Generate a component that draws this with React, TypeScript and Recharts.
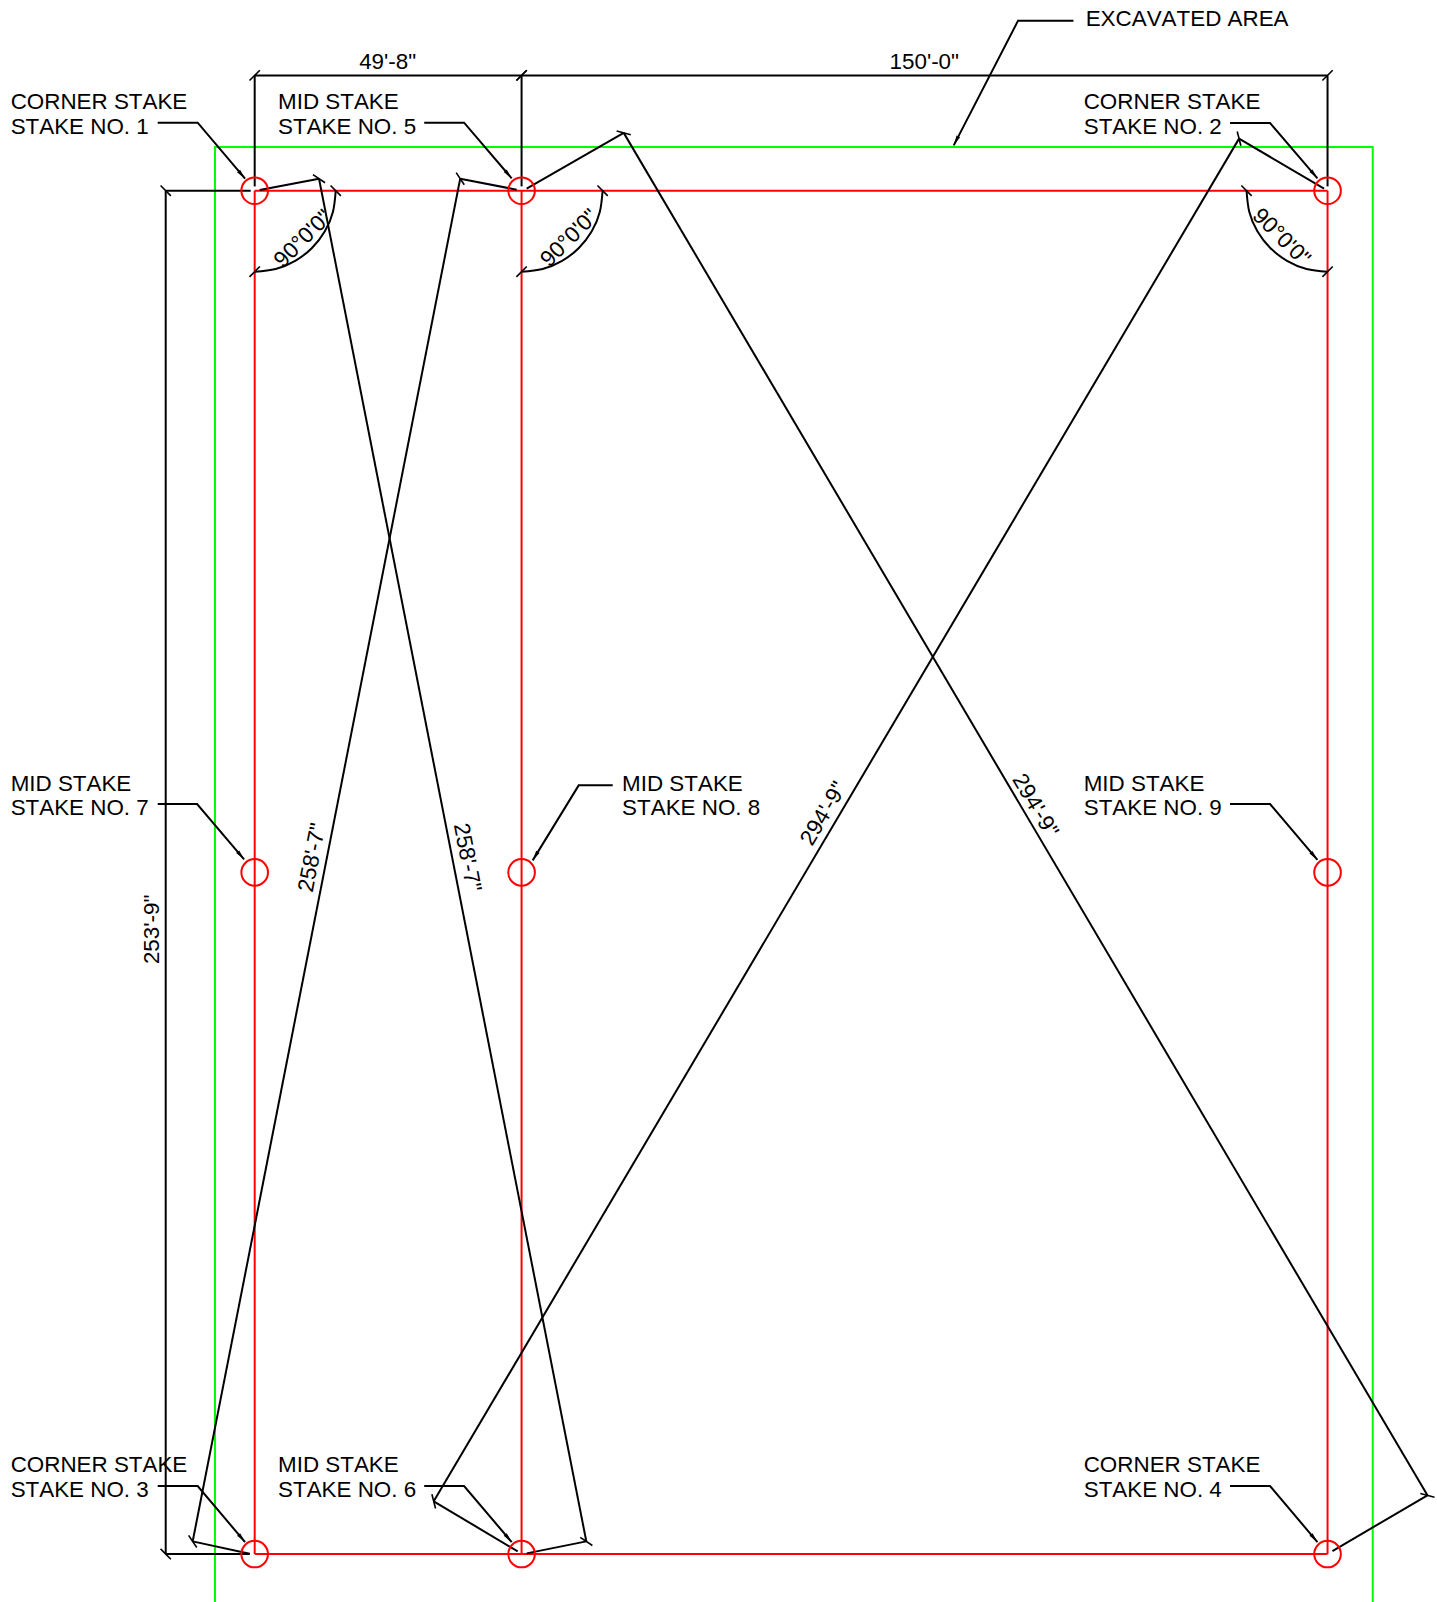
import React from 'react';
import { ComposedChart, Line, Scatter, XAxis, YAxis } from 'recharts';

// everything is in feet, stake no. 3 is the origin
type Pt = [number, number];

const xDomain = [-47.4, 220.04];
const yDomain = [-8.92, 289.24];

const excavated: Pt[] = [[-7.39, -8.99], [-7.39, 261.87], [208.08, 261.87], [208.08, -8.99]];

const redLines: Pt[][] = [
    [[0, 253.75], [199.67, 253.75]],
    [[0, 0], [199.67, 0]],
    [[0, 0], [0, 253.75]],
    [[49.67, 0], [49.67, 253.75]],
    [[199.67, 0], [199.67, 253.75]],
];

const stakes: Pt[] = [
    [0, 253.75], [49.67, 253.75], [199.67, 253.75],
    [0, 126.875], [49.67, 126.875], [199.67, 126.875],
    [0, 0], [49.67, 0], [199.67, 0],
];

const extensionLines: Pt[][] = [
    [[0, 275.21], [0, 254.55]],
    [[49.67, 275.21], [49.67, 254.55]],
    [[199.67, 275.21], [199.67, 254.55]],
    [[-16.56, 253.75], [-0.74, 253.75]],
    [[-16.56, 0], [-0.93, 0]],
    [[0.93, 253.87], [11.97, 255.99]],
    [[61.72, 2.36], [50.62, 0.13]],
    [[48.76, 253.94], [38.25, 255.99]],
    [[-11.54, 2.36], [-0.93, 0.07]],
    [[50.62, 254.13], [68.68, 264.51]],
    [[218.26, 10.93], [200.58, 0.56]],
    [[199.02, 254.13], [183.2, 263.44]],
    [[33.32, 9.81], [48.95, 0.5]],
];

const dimLines: Pt[][] = [
    [[0, 275.21], [49.67, 275.21]],
    [[49.67, 275.21], [199.67, 275.21]],
    [[-16.56, 253.75], [-16.56, 0]],
    [[11.97, 255.99], [61.72, 2.36]],
    [[38.25, 255.99], [-11.54, 2.36]],
    [[68.68, 264.51], [218.26, 10.93]],
    [[183.2, 263.44], [33.32, 9.81]],
];

const angleArcs: Pt[][] = [
    [[15.08, 253.75], [14.57, 249.85], [13.06, 246.21], [10.66, 243.09], [7.54, 240.69], [3.9, 239.18], [0, 238.67]],
    [[64.75, 253.75], [64.24, 249.85], [62.73, 246.21], [60.33, 243.09], [57.21, 240.69], [53.57, 239.18], [49.67, 238.67]],
    [[184.59, 253.75], [185.1, 249.85], [186.61, 246.21], [189.01, 243.09], [192.13, 240.69], [195.77, 239.18], [199.67, 238.67]],
];

const leaders: Pt[][] = [
    [[-18.05, 266.41], [-10.61, 266.41], [-1.79, 255.99]],
    [[31.55, 266.41], [38.97, 266.41], [47.83, 256.05]],
    [[181.52, 266.34], [188.97, 266.34], [197.79, 256.05]],
    [[-18.05, 12.66], [-10.61, 12.66], [-1.79, 2.23]],
    [[31.55, 12.66], [38.97, 12.66], [47.83, 2.23]],
    [[181.52, 12.66], [188.97, 12.66], [197.79, 2.23]],
    [[-18.05, 139.59], [-10.72, 139.59], [-1.97, 129.3]],
    [[66.63, 143.07], [60.3, 143.07], [51.74, 129.11]],
    [[181.52, 139.59], [188.97, 139.59], [197.79, 129.2]],
    [[152.38, 285.4], [142.07, 285.4], [130.1, 262.19]],
];

const noteLabels: [string, number, number][] = [
    ['EXCAVATED AREA', 154.66, 284.33],
    ['CORNER STAKE', -45.42, 268.92],
    ['STAKE NO. 1', -45.42, 264.38],
    ['MID STAKE', 4.35, 268.92],
    ['STAKE NO. 5', 4.35, 264.38],
    ['CORNER STAKE', 154.29, 268.92],
    ['STAKE NO. 2', 154.29, 264.38],
    ['MID STAKE', -45.42, 142.1],
    ['STAKE NO. 7', -45.42, 137.58],
    ['MID STAKE', 68.38, 142.1],
    ['STAKE NO. 8', 68.38, 137.58],
    ['MID STAKE', 154.29, 142.1],
    ['STAKE NO. 9', 154.29, 137.58],
    ['CORNER STAKE', -45.42, 15.24],
    ['STAKE NO. 3', -45.42, 10.64],
    ['MID STAKE', 4.35, 15.24],
    ['STAKE NO. 6', 4.35, 10.64],
    ['CORNER STAKE', 154.29, 15.24],
    ['STAKE NO. 4', 154.29, 10.64],
];

const dimLabels: [string, number, number][] = [
    ["49'-8\"", 24.75, 276.45],
    ["150'-0\"", 124.62, 276.45],
];

const turnedLabels: [string, number, number, number][] = [
    ["253'-9\"", -19.17, 116.27, -90],
    ["258'-7\"", 10.61, 129.67, -79],
    ["258'-7\"", 39.64, 129.67, 79],
    ["294'-9\"", 105.81, 137.86, -59.5],
    ["294'-9\"", 145.36, 139.35, 59.5],
    ['90°0\'0"', 8.93, 244.88, -45],
    ['90°0\'0"', 58.5, 245.0, -45],
    ['90°0\'0"', 191.15, 245.17, 45],
];

const FONT = '"Liberation Sans", Arial, sans-serif';
const FONT_SIZE = 22.4;
const TICK = 7.3;
const textStyle = { fontKerning: 'none' } as React.CSSProperties;

const rows = (pts: Pt[]) => pts.map(([x, y]) => ({ x, y }));

const slash = (key: any, cx: number, cy: number, deg: number) => {
    const a = (deg * Math.PI) / 180;
    const dx = TICK * Math.cos(a);
    const dy = TICK * Math.sin(a);
    return <line key={key} x1={cx - dx} y1={cy - dy} x2={cx + dx} y2={cy + dy} stroke="#000" strokeWidth={1.6} />;
};

const screenAngle = (a: Pt, b: Pt) => (Math.atan2(-(b[1] - a[1]), b[0] - a[0]) * 180) / Math.PI;

const segment = (key: string, pts: Pt[], stroke: string, strokeWidth: number, dot: any = false, type: any = 'linear') => (
    <Line
        key={key}
        data={rows(pts)}
        dataKey="y"
        type={type}
        stroke={stroke}
        strokeWidth={strokeWidth}
        dot={dot}
        activeDot={false}
        legendType="none"
        isAnimationActive={false}
    />
);

const dimDot = (pts: Pt[]) => (p: any) => slash(p.key ?? p.index, p.cx, p.cy, screenAngle(pts[0], pts[1]) - 45);

const arcDot = (pts: Pt[]) => (p: any) => {
    if (p.index !== 0 && p.index !== pts.length - 1) return <g key={p.key ?? p.index} />;
    return slash(p.key ?? p.index, p.cx, p.cy, p.index === 0 ? 45 : -45);
};

const arrowDot = (pts: Pt[]) => (p: any) => {
    if (p.index !== pts.length - 1) return <g key={p.key ?? p.index} />;
    const deg = screenAngle(pts[pts.length - 2], pts[pts.length - 1]);
    return (
        <polygon
            key={p.key ?? p.index}
            points="0,0 -10,-2 -10,2"
            fill="#000"
            transform={`translate(${p.cx} ${p.cy}) rotate(${deg})`}
        />
    );
};

const StakeCircle = (p: any) => <circle cx={p.cx} cy={p.cy} r={13.3} fill="none" stroke="#ff0000" strokeWidth={2} />;

const NoteText = (p: any) => (
    <text x={p.cx} y={p.cy} fontFamily={FONT} fontSize={FONT_SIZE} fill="#000" style={textStyle}>
        {p.payload.label}
    </text>
);

const DimText = (p: any) => (
    <text x={p.cx} y={p.cy} textAnchor="middle" fontFamily={FONT} fontSize={FONT_SIZE} fill="#000" style={textStyle}>
        {p.payload.label}
    </text>
);

const TurnedText = (p: any) => (
    <text
        x={p.cx}
        y={p.cy}
        textAnchor="middle"
        dominantBaseline="central"
        fontFamily={FONT}
        fontSize={FONT_SIZE}
        fill="#000"
        style={textStyle}
        transform={`rotate(${p.payload.turn} ${p.cx} ${p.cy})`}
    >
        {p.payload.label}
    </text>
);

export default function App() {
    return (
        <div style={{ position: 'absolute', left: 0, top: 0, width: 1437, height: 1602, background: '#fff' }}>
            <ComposedChart width={1437} height={1602} margin={{ top: 0, right: 0, bottom: 0, left: 0 }}>
                <XAxis dataKey="x" type="number" domain={xDomain} hide allowDataOverflow />
                <YAxis dataKey="y" type="number" domain={yDomain} hide allowDataOverflow />
                {segment('excavated', excavated, '#00ff00', 2)}
                {redLines.map((pts, i) => segment(`red${i}`, pts, '#ff0000', 2))}
                {extensionLines.map((pts, i) => segment(`ext${i}`, pts, '#000', 2))}
                {dimLines.map((pts, i) => segment(`dim${i}`, pts, '#000', 2, dimDot(pts)))}
                {angleArcs.map((pts, i) => segment(`arc${i}`, pts, '#000', 2, arcDot(pts), 'natural'))}
                {leaders.map((pts, i) => segment(`lead${i}`, pts, '#000', 2, arrowDot(pts)))}
                <Scatter data={rows(stakes)} dataKey="y" shape={StakeCircle} isAnimationActive={false} />
                <Scatter
                    data={noteLabels.map(([label, x, y]) => ({ label, x, y }))}
                    dataKey="y"
                    shape={NoteText}
                    isAnimationActive={false}
                />
                <Scatter
                    data={dimLabels.map(([label, x, y]) => ({ label, x, y }))}
                    dataKey="y"
                    shape={DimText}
                    isAnimationActive={false}
                />
                <Scatter
                    data={turnedLabels.map(([label, x, y, turn]) => ({ label, x, y, turn }))}
                    dataKey="y"
                    shape={TurnedText}
                    isAnimationActive={false}
                />
            </ComposedChart>
        </div>
    );
}
